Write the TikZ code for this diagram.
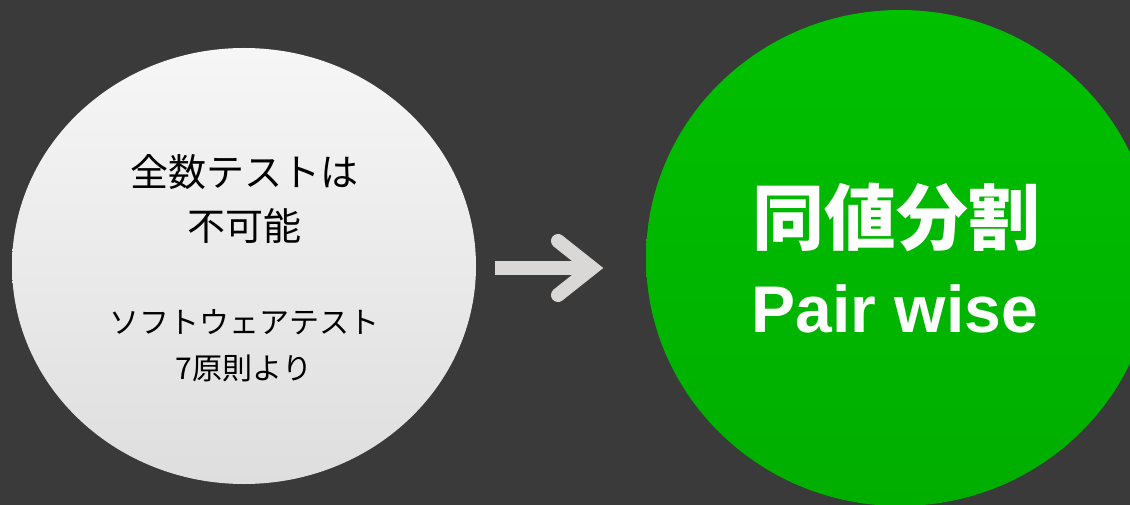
\documentclass[tikz,border=0pt]{standalone}
\usepackage{fontspec}
\usetikzlibrary{shapes.geometric}
\newfontfamily\jp{Noto Sans CJK JP}
\newfontfamily\lat{Liberation Sans}
\definecolor{bg}{HTML}{3A3A3A}
\definecolor{arrowgray}{HTML}{D9D8D6}
\definecolor{lighttop}{HTML}{F6F6F6}
\definecolor{lightbot}{HTML}{DEDEDE}
\definecolor{greentop}{HTML}{00C000}
\definecolor{greenbot}{HTML}{00AE00}
\tikzset{
  greybubble/.style={ellipse, inner sep=0pt, top color=lighttop, bottom color=lightbot, draw=none},
  greenbubble/.style={ellipse, inner sep=0pt, top color=greentop, bottom color=greenbot, draw=none},
  darktext/.style={text=black, inner sep=0pt, font=\jp},
  whitetext/.style={text=white, inner sep=0pt},
  shaft/.style={draw=arrowgray, line width=13pt, line cap=butt},
  barb/.style={draw=arrowgray, line width=14pt, line cap=round, line join=miter}
}
\begin{document}
\begin{tikzpicture}[x=1pt,y=-1pt]
\useasboundingbox (0,0) rectangle (1130,505);
\fill[bg] (0,0) rectangle (1130,505);
\clip (0,0) rectangle (1130,505);
\node[greybubble, minimum width=464pt, minimum height=436pt] (left) at (244,266) {};
\node[greenbubble, minimum width=508pt, minimum height=496pt] (right) at (900,258) {};
\node[darktext, font=\jp\fontsize{38}{40}\selectfont] (t1) at (244,172) {全数テストは};
\node[darktext, font=\jp\fontsize{38}{40}\selectfont] (t2) at (244,226) {不可能};
\node[darktext, font=\jp\fontsize{30}{32}\selectfont] (t3) at (244,322) {ソフトウェアテスト};
\node[darktext, font=\jp\fontsize{30}{32}\selectfont] (t4) at (244,368) {7原則より};
\node[whitetext, font=\jp\bfseries\fontsize{72}{74}\selectfont] (r1) at (896,217) {同値分割};
\node[whitetext, font=\lat\bfseries\fontsize{66}{68}\selectfont, anchor=base] (r2) at (895,332) {Pair wise};
\coordinate (a) at (495,268);
\coordinate (b) at (592,268);
\coordinate (u) at (558,241);
\coordinate (d) at (558,295);
\draw[shaft] (a) -- (b);
\draw[barb] (u) -- (b) -- (d);
\end{tikzpicture}
\end{document}
